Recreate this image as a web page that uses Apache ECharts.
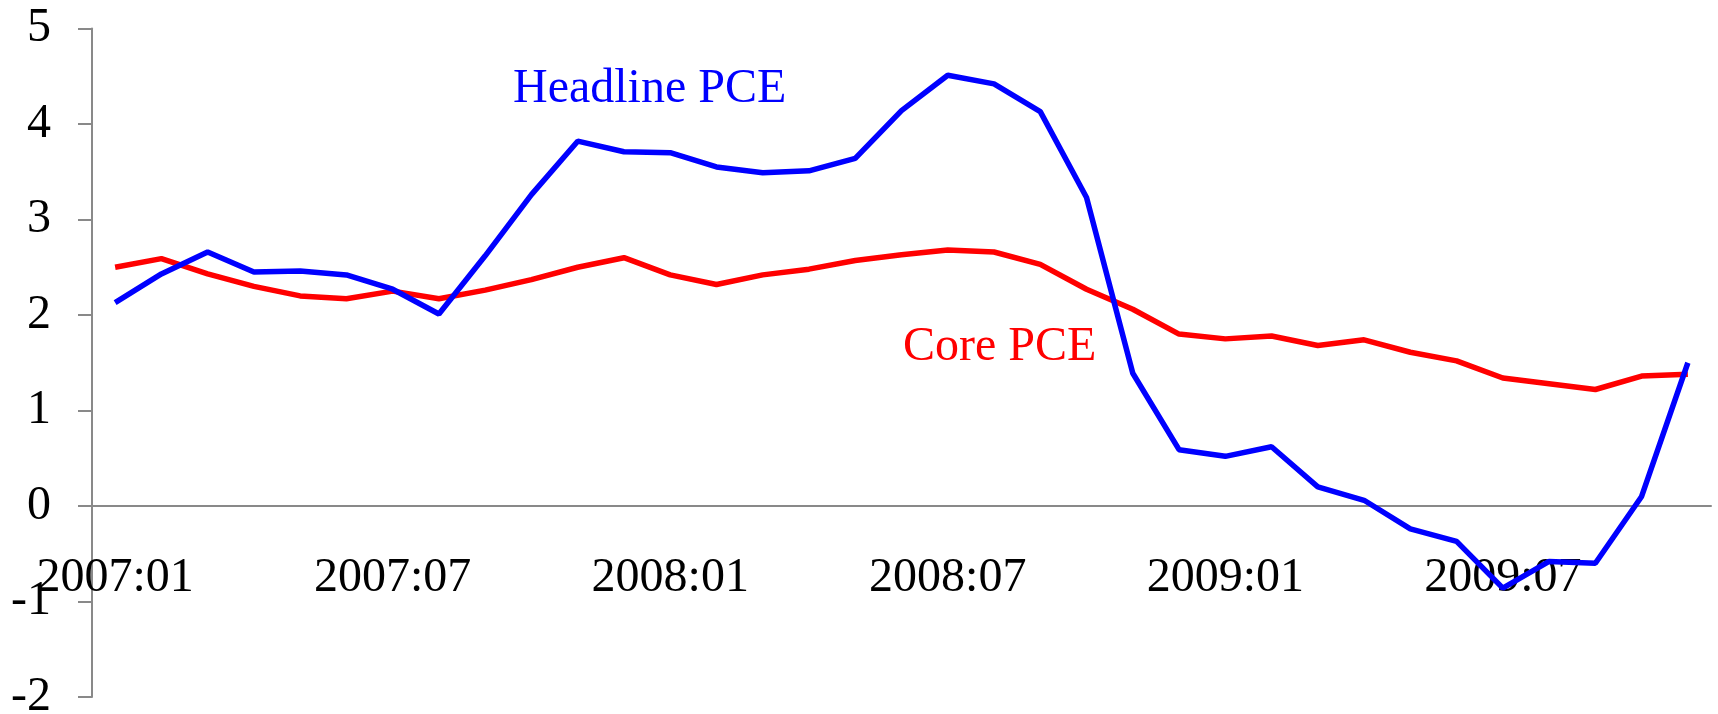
<!DOCTYPE html>
<html>
<head>
<meta charset="utf-8">
<script src="https://cdn.jsdelivr.net/npm/echarts@6/dist/echarts.min.js"></script>
<style>
  html, body { margin: 0; padding: 0; background: #fff; }
  #chart { width: 1718px; height: 714px; }
</style>
</head>
<body>
<div id="chart"></div>
<script>
// months 2007:01 .. 2009:11
const months = [
  '2007:01', '2007:02', '2007:03', '2007:04', '2007:05', '2007:06',
  '2007:07', '2007:08', '2007:09', '2007:10', '2007:11', '2007:12',
  '2008:01', '2008:02', '2008:03', '2008:04', '2008:05', '2008:06',
  '2008:07', '2008:08', '2008:09', '2008:10', '2008:11', '2008:12',
  '2009:01', '2009:02', '2009:03', '2009:04', '2009:05', '2009:06',
  '2009:07', '2009:08', '2009:09', '2009:10', '2009:11'
];

const headlinePce = [
  2.13, 2.43, 2.66, 2.45, 2.46, 2.42, 2.27, 2.01, 2.62, 3.26, 3.82, 3.71,
  3.70, 3.55, 3.49, 3.51, 3.64, 4.14, 4.51, 4.42, 4.13, 3.23, 1.39, 0.59,
  0.52, 0.62, 0.20, 0.06, -0.24, -0.37, -0.86, -0.58, -0.60, 0.10, 1.50
];

const corePce = [
  2.50, 2.59, 2.43, 2.30, 2.20, 2.17, 2.25, 2.17, 2.26, 2.37, 2.50, 2.60,
  2.42, 2.32, 2.42, 2.48, 2.57, 2.63, 2.68, 2.66, 2.53, 2.27, 2.06, 1.80,
  1.75, 1.78, 1.68, 1.74, 1.61, 1.52, 1.34, 1.28, 1.22, 1.36, 1.38
];

const yTicks = [-2, -1, 0, 1, 2, 3, 4, 5];

const serif = '"Liberation Serif", "Times New Roman", serif';
const axisGrey = '#898989';

const W = 1718, H = 714;
const grid = { left: 92, right: 7, top: 28.5, bottom: 17 };
const yMin = yTicks[0], yMax = yTicks[yTicks.length - 1];
// lift the category axis up to the zero line (labels and ticks with it)
const plotH = H - grid.top - grid.bottom;
const zeroOffset = -((0 - yMin) / (yMax - yMin)) * plotH;

var chart = echarts.init(document.getElementById('chart'));

var option = {
  animation: false,
  backgroundColor: '#fff',
  grid: Object.assign({ containLabel: false, outerBoundsMode: 'none' }, grid),
  xAxis: {
    type: 'category',
    data: months,
    boundaryGap: true,
    offset: zeroOffset,
    axisLine: { onZero: false, lineStyle: { color: axisGrey, width: 2 } },
    axisTick: { interval: 5, length: 13, lineStyle: { color: axisGrey, width: 2 } },
    axisLabel: {
      interval: 5,
      margin: 48,
      color: '#000',
      fontFamily: serif,
      fontSize: 48
    },
    splitLine: { show: false }
  },
  yAxis: {
    type: 'value',
    min: yMin,
    max: yMax,
    interval: 1,
    axisLine: { show: true, lineStyle: { color: axisGrey, width: 2 } },
    axisTick: { show: true, length: 14, lineStyle: { color: axisGrey, width: 2 } },
    axisLabel: {
      margin: 41,
      color: '#000',
      fontFamily: serif,
      fontSize: 48
    },
    splitLine: { show: false }
  },
  series: [
    {
      name: 'Headline PCE',
      type: 'line',
      data: headlinePce,
      showSymbol: false,
      lineStyle: { color: '#0000ff', width: 5.5 },
      z: 3
    },
    {
      name: 'Core PCE',
      type: 'line',
      data: corePce,
      showSymbol: false,
      lineStyle: { color: '#ff0000', width: 5.5 },
      z: 2
    }
  ],
  graphic: [
    {
      type: 'text',
      left: 513,
      top: 65,
      style: { text: 'Headline PCE', fill: '#0000ff', font: '48px ' + serif }
    },
    {
      type: 'text',
      left: 903,
      top: 323,
      style: { text: 'Core PCE', fill: '#ff0000', font: '48px ' + serif }
    }
  ]
};

option && chart.setOption(option);
</script>
</body>
</html>
